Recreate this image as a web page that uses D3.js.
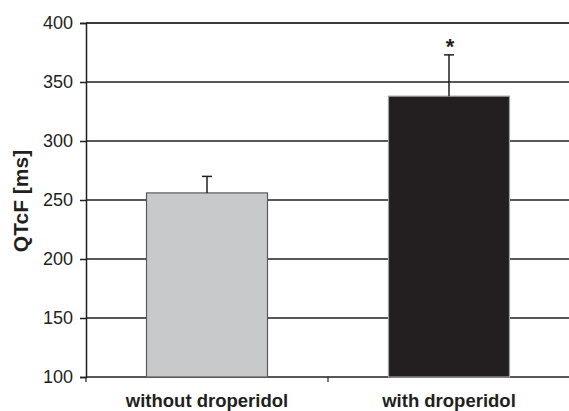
<!DOCTYPE html>
<html><head><meta charset="utf-8">
<script src="https://cdn.jsdelivr.net/npm/d3@7"></script>
<style>html,body{margin:0;padding:0;background:#fff;}svg{display:block;}</style>
</head><body>
<script>
const categories = ["without droperidol", "with droperidol"];
const means = [256, 338];
const errors = [14, 35];
const significance = ["", "*"];
const yTicks = [100, 150, 200, 250, 300, 350, 400];
const yTitle = "QTcF [ms]";
const fills = ["#c8c9cb", "#231f20"];
const strokes = ["#5a5a5c", "#a0a0a0"];

const W = 569, H = 411;
const m = {left: 86, right: -1, top: 23, bottom: 34};
const svg = d3.select("body").append("svg").attr("width", W).attr("height", H);
const font = "'Liberation Sans', Arial, Helvetica, sans-serif";

const x = d3.scaleBand().domain(categories).range([m.left, W - m.right]).paddingInner(0.5).paddingOuter(0.25);
const y = d3.scaleLinear().domain([100, 400]).range([H - m.bottom, m.top]);

// gridlines
svg.append("g").selectAll("line").data(yTicks.filter(t => t > 100)).join("line")
  .attr("x1", m.left).attr("x2", W - m.right)
  .attr("y1", d => y(d)).attr("y2", d => y(d))
  .attr("stroke", d => d === 400 ? "#3a3a3a" : "#231f20")
  .attr("stroke-width", d => d === 400 ? 2 : 1.5);

// y axis
const yAxis = d3.axisLeft(y).tickValues(yTicks).tickSize(6).tickPadding(7);
const gy = svg.append("g").attr("transform", `translate(${m.left},0)`).call(yAxis);
gy.select(".domain").attr("stroke", "#231f20").attr("stroke-width", 1.5);
gy.selectAll(".tick line").attr("stroke", "#231f20").attr("stroke-width", 1.5);
gy.selectAll(".tick text").attr("font-family", font).attr("font-size", 18).attr("fill", "#231f20");

// x axis
const xBoundaries = d3.scaleLinear().domain([0, categories.length]).range([m.left, W - m.right]);
const gx = svg.append("g").attr("transform", `translate(0,${H - m.bottom})`);
gx.append("line").attr("x1", m.left).attr("x2", W - m.right).attr("stroke", "#231f20").attr("stroke-width", 1.5);
gx.selectAll("line.tk").data(d3.range(categories.length)).join("line").attr("class", "tk")
  .attr("x1", d => xBoundaries(d)).attr("x2", d => xBoundaries(d)).attr("y1", 0).attr("y2", 5)
  .attr("stroke", "#231f20").attr("stroke-width", 1.2);
gx.selectAll("text").data(categories).join("text")
  .attr("x", d => x(d) + x.bandwidth() / 2).attr("y", 30)
  .attr("text-anchor", "middle").attr("font-family", font).attr("font-weight", "bold")
  .attr("font-size", 18.5).attr("fill", "#231f20").text(d => d);

// bars
svg.append("g").selectAll("rect").data(categories).join("rect")
  .attr("x", d => x(d)).attr("width", x.bandwidth())
  .attr("y", (d, i) => y(means[i])).attr("height", (d, i) => y(100) - y(means[i]))
  .attr("fill", (d, i) => fills[i]).attr("stroke", (d, i) => strokes[i]).attr("stroke-width", 1.2);

// error bars
const eb = svg.append("g");
categories.forEach((c, i) => {
  const cx = x(c) + x.bandwidth() / 2;
  eb.append("line").attr("x1", cx).attr("x2", cx).attr("y1", y(means[i])).attr("y2", y(means[i] + errors[i]))
    .attr("stroke", "#231f20").attr("stroke-width", 1.5);
  eb.append("line").attr("x1", cx - 5).attr("x2", cx + 5).attr("y1", y(means[i] + errors[i])).attr("y2", y(means[i] + errors[i]))
    .attr("stroke", "#231f20").attr("stroke-width", 1.5);
  if (significance[i]) {
    eb.append("text").attr("x", cx + 1).attr("y", y(means[i] + errors[i]) - 1)
      .attr("text-anchor", "middle").attr("font-family", font).attr("font-weight", "bold")
      .attr("font-size", 22).attr("fill", "#231f20").text(significance[i]);
  }
});

// y title
svg.append("text").attr("transform", `translate(28,${(y(100) + y(400)) / 2 + 1}) rotate(-90)`)
  .attr("text-anchor", "middle").attr("font-family", font).attr("font-weight", "bold")
  .attr("font-size", 21).attr("fill", "#231f20").text(yTitle);
</script>
</body></html>
